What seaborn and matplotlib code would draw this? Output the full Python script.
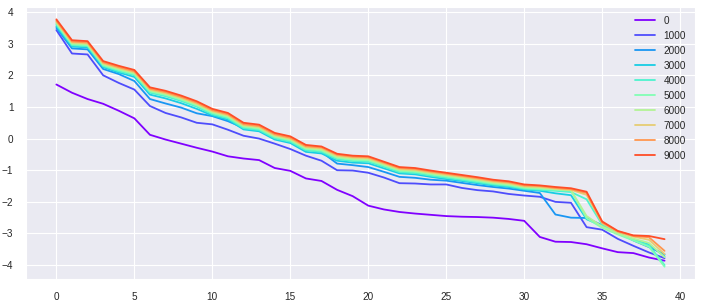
import matplotlib
matplotlib.use("Agg")
import matplotlib.pyplot as plt
import seaborn as sns
import pandas as pd
import numpy as np

# one curve per step count, 40 points each
steps = [0, 1000, 2000, 3000, 4000, 5000, 6000, 7000, 8000, 9000]

s0 = [1.71, 1.45, 1.25, 1.10, 0.88, 0.64, 0.12, -0.03, -0.16, -0.29,
      -0.41, -0.56, -0.63, -0.68, -0.93, -1.02, -1.26, -1.34, -1.62, -1.82,
      -2.12, -2.24, -2.32, -2.37, -2.41, -2.45, -2.47, -2.48, -2.50, -2.54,
      -2.60, -3.11, -3.26, -3.27, -3.34, -3.47, -3.59, -3.62, -3.76, -3.86]
s1000 = [3.43, 2.69, 2.66, 2.00, 1.76, 1.55, 1.03, 0.81, 0.67, 0.50,
         0.45, 0.28, 0.09, 0.00, -0.16, -0.33, -0.54, -0.70, -1.00, -1.01,
         -1.08, -1.23, -1.41, -1.42, -1.45, -1.45, -1.56, -1.63, -1.67, -1.75,
         -1.80, -1.84, -2.00, -2.03, -2.80, -2.88, -3.17, -3.39, -3.60, -3.78]
s2000 = [3.50, 2.85, 2.82, 2.20, 2.04, 1.82, 1.25, 1.11, 0.98, 0.80,
         0.71, 0.55, 0.34, 0.27, 0.05, -0.05, -0.34, -0.42, -0.79, -0.84,
         -0.90, -1.05, -1.21, -1.24, -1.30, -1.33, -1.40, -1.47, -1.53, -1.58,
         -1.65, -1.72, -2.40, -2.50, -2.51, -2.74, -2.97, -3.22, -3.43, -3.66]
s3000 = [3.55, 2.91, 2.88, 2.26, 2.09, 1.95, 1.39, 1.27, 1.12, 0.94,
         0.73, 0.60, 0.29, 0.23, -0.03, -0.14, -0.42, -0.47, -0.70, -0.76,
         -0.78, -0.94, -1.10, -1.13, -1.21, -1.28, -1.34, -1.41, -1.48, -1.53,
         -1.61, -1.65, -1.73, -1.79, -2.55, -2.76, -3.00, -3.20, -3.35, -3.72]
s4000 = [3.60, 2.95, 2.92, 2.29, 2.13, 2.00, 1.45, 1.34, 1.19, 1.01,
         0.77, 0.64, 0.33, 0.27, 0.01, -0.10, -0.37, -0.42, -0.65, -0.71,
         -0.73, -0.89, -1.06, -1.09, -1.17, -1.24, -1.31, -1.38, -1.45, -1.50,
         -1.59, -1.62, -1.65, -1.69, -1.92, -2.72, -3.00, -3.20, -3.38, -4.00]
s5000 = [3.64, 2.98, 2.95, 2.32, 2.17, 2.04, 1.49, 1.38, 1.23, 1.05,
         0.81, 0.68, 0.37, 0.31, 0.05, -0.06, -0.33, -0.38, -0.61, -0.67,
         -0.69, -0.85, -1.02, -1.05, -1.13, -1.20, -1.27, -1.34, -1.42, -1.47,
         -1.56, -1.59, -1.62, -1.65, -2.52, -2.82, -3.03, -3.22, -3.42, -4.05]
s6000 = [3.67, 3.01, 2.98, 2.35, 2.20, 2.07, 1.52, 1.41, 1.26, 1.08,
         0.84, 0.71, 0.40, 0.34, 0.08, -0.03, -0.30, -0.35, -0.58, -0.64,
         -0.66, -0.82, -0.99, -1.02, -1.10, -1.17, -1.24, -1.31, -1.39, -1.44,
         -1.53, -1.56, -1.60, -1.63, -2.45, -2.78, -3.00, -3.16, -3.30, -3.75]
s7000 = [3.70, 3.04, 3.01, 2.38, 2.23, 2.10, 1.55, 1.44, 1.29, 1.11,
         0.87, 0.74, 0.43, 0.37, 0.11, 0.00, -0.27, -0.31, -0.54, -0.60,
         -0.62, -0.79, -0.96, -0.99, -1.07, -1.14, -1.21, -1.28, -1.36, -1.41,
         -1.51, -1.53, -1.58, -1.62, -1.78, -2.68, -2.95, -3.10, -3.20, -3.65]
s8000 = [3.73, 3.07, 3.04, 2.41, 2.26, 2.13, 1.58, 1.47, 1.32, 1.14,
         0.90, 0.77, 0.46, 0.40, 0.14, 0.03, -0.24, -0.28, -0.51, -0.57,
         -0.59, -0.76, -0.93, -0.96, -1.04, -1.11, -1.18, -1.25, -1.33, -1.38,
         -1.48, -1.50, -1.56, -1.60, -1.72, -2.65, -2.93, -3.08, -3.12, -3.55]
s9000 = [3.77, 3.11, 3.08, 2.45, 2.30, 2.17, 1.62, 1.51, 1.36, 1.18,
         0.94, 0.81, 0.50, 0.44, 0.18, 0.07, -0.20, -0.25, -0.48, -0.54,
         -0.56, -0.73, -0.90, -0.93, -1.01, -1.08, -1.15, -1.22, -1.30, -1.35,
         -1.45, -1.48, -1.53, -1.57, -1.68, -2.62, -2.92, -3.06, -3.08, -3.18]

series = [s0, s1000, s2000, s3000, s4000, s5000, s6000, s7000, s8000, s9000]

rows = []
for step, vals in zip(steps, series):
    for i, v in enumerate(vals):
        rows.append({"index": i, "value": v, "step": str(step)})
df = pd.DataFrame(rows)

sns.set_style("darkgrid")
plt.rcParams["font.family"] = ["Liberation Sans", "DejaVu Sans"]
plt.rcParams["xtick.major.pad"] = 5.5
plt.rcParams["ytick.major.pad"] = 5.5

colors = [plt.cm.rainbow(k / 10) for k in range(len(steps))]

fig = plt.figure(figsize=(7.02, 3.03), dpi=100)
ax = fig.add_axes([0.037, 0.079, 0.953, 0.898])
sns.lineplot(data=df, x="index", y="value", hue="step", palette=colors,
             linewidth=1.3, ax=ax)
ax.set_xlabel("")
ax.set_ylabel("")
ax.set_xticks(np.arange(0, 41, 5))
ax.tick_params(labelsize=7.2, colors=".15")
ax.legend(loc="upper right", fontsize=7.2, frameon=False)

fig.savefig("out.png", dpi=100)
